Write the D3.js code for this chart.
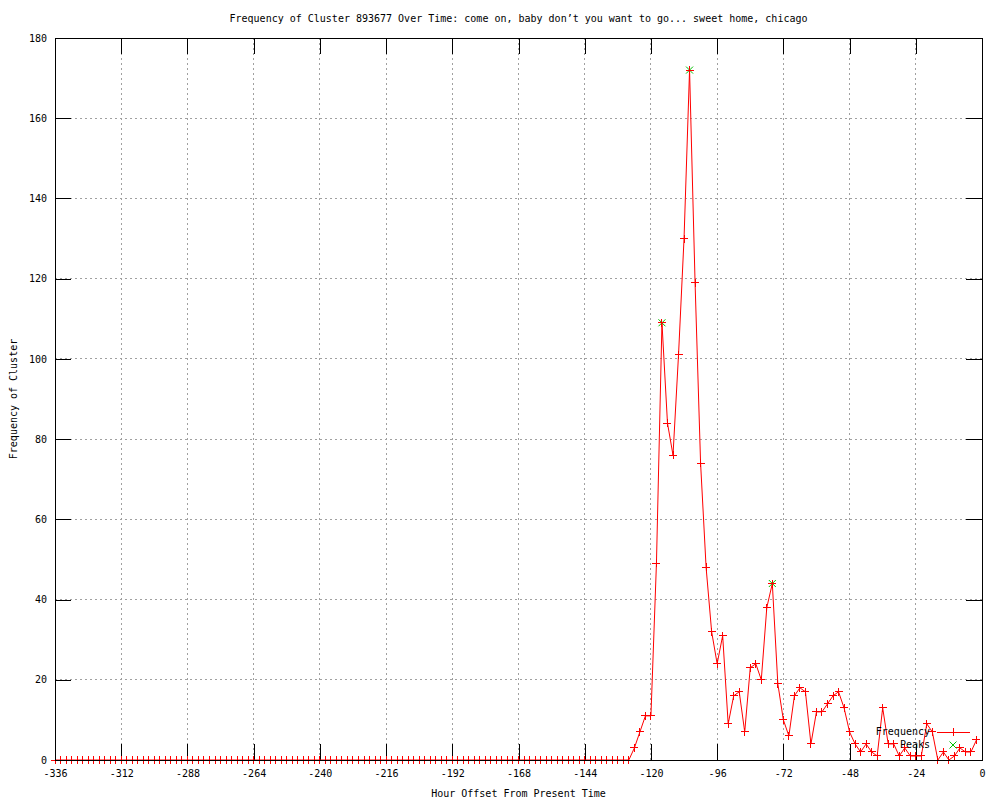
<!DOCTYPE html>
<html>
<head>
<meta charset="utf-8">
<script src="https://cdn.jsdelivr.net/npm/d3@7"></script>
<style>
  body { margin: 0; background: #fff; }
  svg text { font-family: "DejaVu Sans Mono", monospace; font-size: 10px; fill: #000; }
</style>
</head>
<body>
<div id="chart"></div>
<script>
// Data: cluster counts every 2 hours, from -336 up to -2
var hourCounts = [
  0, 0, 0, 0, 0, 0, 0, 0, 0, 0, 0, 0, 0, 0, 0,
  0, 0, 0, 0, 0, 0, 0, 0, 0, 0, 0, 0, 0, 0, 0,
  0, 0, 0, 0, 0, 0, 0, 0, 0, 0, 0, 0, 0, 0, 0,
  0, 0, 0, 0, 0, 0, 0, 0, 0, 0, 0, 0, 0, 0, 0,
  0, 0, 0, 0, 0, 0, 0, 0, 0, 0, 0, 0, 0, 0, 0,
  0, 0, 0, 0, 0, 0, 0, 0, 0, 0, 0, 0, 0, 0, 0,
  0, 0, 0, 0, 0, 0, 0, 0, 0, 0, 0, 0, 0, 0, 0,
  3, 7, 11, 11, 49, 109, 84, 76, 101, 130, 172, 119, 74, 48, 32,
  24, 31, 9, 16, 17, 7, 23, 24, 20, 38, 44, 19, 10, 6, 16,
  18, 17, 4, 12, 12, 14, 16, 17, 13, 7, 4, 2, 4, 2, 1,
  13, 4, 4, 1, 3, 1, 1, 1, 9, 7, 0, 2, 0, 1, 3,
  2, 2, 5
];
var hours = d3.range(-336, 0, 2);

var peakHours = [-116, -106, -76];
var peakCounts = [109, 172, 44];

var xTicks = [-336, -312, -288, -264, -240, -216, -192, -168, -144, -120, -96, -72, -48, -24, 0];
var yTicks = [0, 20, 40, 60, 80, 100, 120, 140, 160, 180];

// Sizing
var svgWidth = 1000;
var svgHeight = 800;
var margin = { top: 38, right: 18, bottom: 40, left: 55 };
var width = svgWidth - margin.left - margin.right;
var height = svgHeight - margin.top - margin.bottom;

var svg = d3.select("#chart")
  .append("svg")
  .attr("width", svgWidth)
  .attr("height", svgHeight);

var chartGroup = svg.append("g")
  .attr("transform", `translate(${margin.left}, ${margin.top})`);

// scales
var xScale = d3.scaleLinear().domain([-336, 0]).range([0, width]);
var yScale = d3.scaleLinear().domain([0, 180]).range([height, 0]);

// grid (dotted)
var grid = chartGroup.append("g")
  .attr("stroke", "#a0a0a0")
  .attr("stroke-dasharray", "2,3")
  .attr("shape-rendering", "crispEdges");
grid.selectAll(".vgrid")
  .data(xTicks.slice(1, -1))
  .enter()
  .append("line")
  .attr("x1", d => xScale(d))
  .attr("x2", d => xScale(d))
  .attr("y1", 0)
  .attr("y2", height);
grid.selectAll(".hgrid")
  .data(yTicks.slice(1, -1))
  .enter()
  .append("line")
  .attr("x1", 0)
  .attr("x2", width)
  .attr("y1", d => yScale(d))
  .attr("y2", d => yScale(d));

// axes, ticks pointing inward
function styleAxis(g) {
  g.attr("font-family", null).attr("font-size", null);
  g.select(".domain").remove();
  g.selectAll("line").attr("stroke", "#000").attr("shape-rendering", "crispEdges");
}
chartGroup.append("g")
  .attr("transform", `translate(0, ${height})`)
  .call(d3.axisBottom(xScale).tickValues(xTicks).tickSize(-16).tickPadding(10).tickFormat(d3.format("d")))
  .call(styleAxis);
chartGroup.append("g")
  .call(d3.axisLeft(yScale).tickValues(yTicks).tickSize(-16).tickPadding(8))
  .call(styleAxis);
chartGroup.append("g")
  .call(d3.axisTop(xScale).tickValues(xTicks).tickSize(-16).tickFormat(""))
  .call(styleAxis);
chartGroup.append("g")
  .attr("transform", `translate(${width}, 0)`)
  .call(d3.axisRight(yScale).tickValues(yTicks).tickSize(-16).tickFormat(""))
  .call(styleAxis);
// use plain hyphen for negatives like gnuplot
chartGroup.selectAll(".tick text").text(function() {
  return d3.select(this).text().replace("\u2212", "-");
});

// frequency line
var line = d3.line()
  .x((d, i) => xScale(hours[i]))
  .y(d => yScale(d));
chartGroup.append("path")
  .datum(hourCounts)
  .attr("d", line)
  .attr("fill", "none")
  .attr("stroke", "#ff0000")
  .attr("stroke-width", 1);

// "+" markers
var plusPath = "M-4,0H4M0,-4V4";
chartGroup.selectAll(".pt")
  .data(hourCounts)
  .enter()
  .append("path")
  .attr("class", "pt")
  .attr("transform", (d, i) => `translate(${xScale(hours[i])}, ${yScale(d)})`)
  .attr("d", plusPath)
  .attr("stroke", "#ff0000")
  .attr("stroke-width", 1)
  .attr("shape-rendering", "crispEdges");

// peaks "x" markers
var crossPath = "M-3.5,-3.5L3.5,3.5M-3.5,3.5L3.5,-3.5";
chartGroup.selectAll(".peak")
  .data(peakCounts)
  .enter()
  .append("path")
  .attr("class", "peak")
  .attr("transform", (d, i) => `translate(${xScale(peakHours[i])}, ${yScale(d)})`)
  .attr("d", crossPath)
  .attr("stroke", "#00c000")
  .attr("stroke-width", 1);
// red plus drawn over the peaks again, like gnuplot overlays
chartGroup.selectAll(".peakplus")
  .data(peakCounts)
  .enter()
  .append("path")
  .attr("transform", (d, i) => `translate(${xScale(peakHours[i])}, ${yScale(d)})`)
  .attr("d", plusPath)
  .attr("stroke", "#ff0000")
  .attr("shape-rendering", "crispEdges");

// legend
var legend = chartGroup.append("g").attr("transform", `translate(${width - 52}, ${height - 28})`);
legend.append("text").attr("x", 0).attr("y", 0).attr("dy", "0.32em").attr("text-anchor", "end").text("Frequency");
legend.append("line").attr("x1", 7).attr("x2", 40).attr("y1", 0).attr("y2", 0)
  .attr("stroke", "#ff0000").attr("shape-rendering", "crispEdges");
legend.append("path").attr("transform", "translate(23, 0)").attr("d", plusPath)
  .attr("stroke", "#ff0000").attr("shape-rendering", "crispEdges");
legend.append("text").attr("x", 0).attr("y", 13).attr("dy", "0.32em").attr("text-anchor", "end").text("Peaks");
legend.append("path").attr("transform", "translate(23, 13)").attr("d", crossPath)
  .attr("stroke", "#00c000");

// border
chartGroup.append("rect")
  .attr("x", 0)
  .attr("y", 0)
  .attr("width", width)
  .attr("height", height)
  .attr("fill", "none")
  .attr("stroke", "#000")
  .attr("shape-rendering", "crispEdges");

// title and axes labels
svg.append("text")
  .attr("x", margin.left + width / 2)
  .attr("y", 22)
  .attr("text-anchor", "middle")
  .text("Frequency of Cluster 893677 Over Time: come on, baby don\u2019t you want to go... sweet home, chicago");

svg.append("text")
  .attr("x", margin.left + width / 2)
  .attr("y", 797)
  .attr("text-anchor", "middle")
  .text("Hour Offset From Present Time");

svg.append("text")
  .attr("transform", "translate(17, 399) rotate(-90)")
  .attr("text-anchor", "middle")
  .text("Frequency of Cluster");
</script>
</body>
</html>
